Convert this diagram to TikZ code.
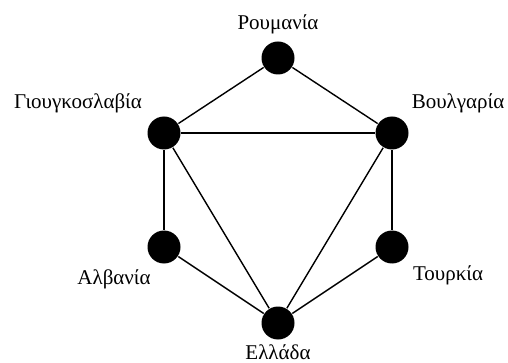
\documentclass[tikz,border=0pt]{standalone}
\usepackage{fontspec}
\setmainfont{Liberation Serif}
\usetikzlibrary{positioning}
\tikzset{
  country/.style={circle, fill=black, minimum size=33pt, inner sep=0pt},
  cname/.style={font=\fontsize{21}{25}\selectfont, inner sep=0pt}
}

\begin{document}
\begin{tikzpicture}[x=1pt, y=-1pt, line width=1.4pt]
  \useasboundingbox (0,0) rectangle (508,363);

  % countries
  \node[country] (rou) at (278, 58) {};
  \node[country] (gio) at (164, 133) {};
  \node[country] (bou) at (392, 133) {};
  \node[country] (alb) at (164, 247) {};
  \node[country] (tou) at (392, 247) {};
  \node[country] (ell) at (278, 323) {};

  % borders
  \draw (rou) -- (gio);
  \draw (rou) -- (bou);
  \draw (gio) -- (bou);
  \draw (gio) -- (alb);
  \draw (gio) -- (ell);
  \draw (bou) -- (tou);
  \draw (bou) -- (ell);
  \draw (alb) -- (ell);
  \draw (tou) -- (ell);

  % names
  \node[cname] (trou) at (278, 24) {Ρουμανία};
  \node[cname] (tgio) at (78, 103) {Γιουγκοσλαβία};
  \node[cname] (tbou) at (458, 103) {Βουλγαρία};
  \node[cname] (talb) at (114, 279) {Αλβανία};
  \node[cname] (ttou) at (448, 275) {Τουρκία};
  \node[cname] (tell) at (278, 352) {Ελλάδα};
\end{tikzpicture}
\end{document}
